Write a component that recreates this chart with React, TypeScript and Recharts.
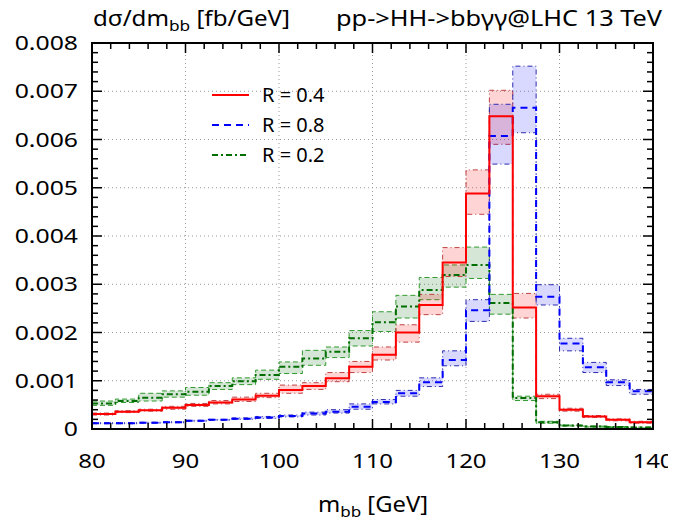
import React from 'react';
import { ComposedChart, Line, Area, XAxis, YAxis, CartesianGrid, Legend } from 'recharts';

// Bin lower edges (GeV), bins are 2.5 GeV wide, last edge 140
const binEdges = [80, 82.5, 85, 87.5, 90, 92.5, 95, 97.5, 100, 102.5, 105, 107.5, 110, 112.5, 115, 117.5, 120, 122.5, 125, 127.5, 130, 132.5, 135, 137.5, 140];

// R = 0.4 (red)
const r04 = [0.00031, 0.00036, 0.00039, 0.00044, 0.0005, 0.00055, 0.00061, 0.00069, 0.00081, 0.00089, 0.00105, 0.00129, 0.00154, 0.002, 0.00257, 0.00345, 0.00488, 0.00648, 0.00252, 0.00068, 0.0004, 0.00026, 0.00019, 0.00014];
const r04Lo = [0.00029, 0.00034, 0.00037, 0.00041, 0.00047, 0.00052, 0.00057, 0.00065, 0.00074, 0.00082, 0.00098, 0.00117, 0.00143, 0.0018, 0.00237, 0.00316, 0.00445, 0.0059, 0.0023, 0.00063, 0.00037, 0.00024, 0.00017, 0.00012];
const r04Hi = [0.00033, 0.00038, 0.00041, 0.00047, 0.00053, 0.00059, 0.00066, 0.00074, 0.00091, 0.00096, 0.00117, 0.0014, 0.0017, 0.00216, 0.00279, 0.00376, 0.00537, 0.00702, 0.00281, 0.00072, 0.00043, 0.00028, 0.00021, 0.00016];

// R = 0.8 (blue)
const r08 = [0.00012, 0.00012, 0.00013, 0.00014, 0.00017, 0.00019, 0.00021, 0.00024, 0.00027, 0.00032, 0.00036, 0.00046, 0.00056, 0.00074, 0.00097, 0.00143, 0.00246, 0.00607, 0.00666, 0.00274, 0.00177, 0.00128, 0.00097, 0.00078];
const r08Lo = [0.00011, 0.00011, 0.00012, 0.00013, 0.00016, 0.00018, 0.0002, 0.00022, 0.00025, 0.00029, 0.00033, 0.00041, 0.00052, 0.00068, 0.00088, 0.00131, 0.00223, 0.00549, 0.00614, 0.00257, 0.00162, 0.00117, 0.0009, 0.00072];
const r08Hi = [0.00013, 0.00013, 0.00014, 0.00015, 0.00018, 0.0002, 0.00023, 0.00026, 0.00029, 0.00035, 0.0004, 0.00052, 0.00061, 0.0008, 0.00106, 0.00162, 0.00268, 0.00673, 0.00752, 0.00299, 0.00188, 0.00138, 0.00102, 0.00082];

// R = 0.2 (green)
const r02 = [0.00053, 0.00058, 0.00065, 0.00072, 0.00077, 0.00089, 0.00099, 0.00112, 0.00129, 0.00146, 0.0016, 0.00188, 0.00221, 0.00254, 0.00288, 0.00319, 0.0034, 0.00261, 0.00064, 0.00014, 0.00007, 0.00005, 0.00004, 0.00003];
const r02Lo = [0.00049, 0.00055, 0.00058, 0.00066, 0.0007, 0.00082, 0.00092, 0.00103, 0.00115, 0.00132, 0.00148, 0.00172, 0.00202, 0.0023, 0.00268, 0.00294, 0.00312, 0.00238, 0.00059, 0.00012, 0.00006, 0.00004, 0.00003, 0.00002];
const r02Hi = [0.00058, 0.00062, 0.00074, 0.00079, 0.00086, 0.00096, 0.00106, 0.00122, 0.00139, 0.00163, 0.0017, 0.00204, 0.00243, 0.00277, 0.00314, 0.0034, 0.00377, 0.00279, 0.00068, 0.00016, 0.00008, 0.00006, 0.00005, 0.00004];

const xDomain = [80, 140];
const yDomain = [0, 0.008];
const xMajorTicks = [80, 90, 100, 110, 120, 130, 140];
const xMinorTicks = [80, 82, 84, 86, 88, 90, 92, 94, 96, 98, 100, 102, 104, 106, 108, 110, 112, 114, 116, 118, 120, 122, 124, 126, 128, 130, 132, 134, 136, 138, 140];
const yMajorTicks = [0, 0.001, 0.002, 0.003, 0.004, 0.005, 0.006, 0.007, 0.008];
const yTickLabels = ['0', '0.001', '0.002', '0.003', '0.004', '0.005', '0.006', '0.007', '0.008'];
const yMinorTicks = [0, 0.0002, 0.0004, 0.0006, 0.0008, 0.001, 0.0012, 0.0014, 0.0016, 0.0018, 0.002, 0.0022, 0.0024, 0.0026, 0.0028, 0.003, 0.0032, 0.0034, 0.0036, 0.0038, 0.004, 0.0042, 0.0044, 0.0046, 0.0048, 0.005, 0.0052, 0.0054, 0.0056, 0.0058, 0.006, 0.0062, 0.0064, 0.0066, 0.0068, 0.007, 0.0072, 0.0074, 0.0076, 0.0078, 0.008];

const legendItems = [
  { label: 'R = 0.4', color: '#ff0000', dash: undefined },
  { label: 'R = 0.8', color: '#0000ff', dash: '7 5' },
  { label: 'R = 0.2', color: '#006e00', dash: '6 3 2 3' },
];

const last = r04.length - 1;
const data = binEdges.map((x, i) => {
  const k = Math.min(i, last);
  return {
    x,
    r04: r04[k],
    r04Band: [r04Lo[k], r04Hi[k]],
    r08: r08[k],
    r08Band: [r08Lo[k], r08Hi[k]],
    r02: r02[k],
    r02Band: [r02Lo[k], r02Hi[k]],
  };
});

// layout constants
const CHART_W = 668;
const CHART_H = 513;
const MARGIN = { top: 35, right: 23, bottom: 0, left: 0 };
const Y_AXIS_W = 84;
const X_AXIS_H = 92;
const PLOT_L = MARGIN.left + Y_AXIS_W;
const PLOT_T = MARGIN.top;
const PLOT_W = CHART_W - MARGIN.left - MARGIN.right - Y_AXIS_W;
const PLOT_H = CHART_H - MARGIN.top - MARGIN.bottom - X_AXIS_H;

// frame tick positions (decoration only)
const tickX = (v: number) => PLOT_L + ((v - xDomain[0]) / (xDomain[1] - xDomain[0])) * PLOT_W;
const tickY = (v: number) => PLOT_T + PLOT_H - ((v - yDomain[0]) / (yDomain[1] - yDomain[0])) * PLOT_H;

const FONT = '"Noto Sans", "Open Sans", sans-serif';
const isMajorX = (v: number) => xMajorTicks.some((t) => Math.abs(t - v) < 1e-9);
const majorYIndex = (v: number) => yMajorTicks.findIndex((t) => Math.abs(t - v) < 1e-9);

const BottomTick = (props: any) => {
  const { x, y, payload } = props;
  if (!isMajorX(payload.value)) return <g />;
  return (
    <text transform={`translate(${x},${y + 39}) scale(1.2,1)`} textAnchor="middle" fontSize={20} fontFamily={FONT} fill="#000" stroke="none">
      {payload.value}
    </text>
  );
};

const LeftTick = (props: any) => {
  const { x, y, payload } = props;
  const idx = majorYIndex(payload.value);
  if (idx < 0) return <g />;
  return (
    <text transform={`translate(${x - 14},${y + 7}) scale(1.24,1)`} textAnchor="end" fontSize={20} fontFamily={FONT} fill="#000" stroke="none">
      {yTickLabels[idx]}
    </text>
  );
};

const renderLegend = () => (
  <svg width={150} height={90} style={{ display: 'block' }}>
    {legendItems.map((it, i) => (
      <g key={it.label}>
        <line x1={0} x2={37} y1={15 + i * 30} y2={15 + i * 30} stroke={it.color} strokeWidth={2} strokeDasharray={it.dash} />
        <text x={50} y={15 + i * 30 + 7} fontSize={20} fontFamily={FONT} fill="#000">
          {it.label}
        </text>
      </g>
    ))}
  </svg>
);

export default function App() {
  return (
    <div style={{ position: 'relative', width: CHART_W, height: CHART_H }}>
      <ComposedChart width={CHART_W} height={CHART_H} data={data} margin={MARGIN}>
        <CartesianGrid
          stroke="#999"
          strokeDasharray="1 3"
          horizontalValues={[0.001, 0.002, 0.003, 0.004, 0.005, 0.006, 0.007]}
          verticalValues={[90, 100, 110, 120, 130]}
        />
        <XAxis
          dataKey="x"
          type="number"
          domain={xDomain}
          allowDataOverflow
          ticks={xMinorTicks}
          interval={0}
          height={X_AXIS_H}
          tickSize={0}
          tickMargin={0}
          tickLine={false}
          axisLine={false}
          tick={<BottomTick />}
        />
        <YAxis
          type="number"
          domain={yDomain}
          allowDataOverflow
          ticks={yMinorTicks}
          interval={0}
          width={Y_AXIS_W}
          tickSize={0}
          tickMargin={0}
          tickLine={false}
          axisLine={false}
          tick={<LeftTick />}
        />
        <Area dataKey="r02Band" type="stepAfter" fill="#006400" fillOpacity={0.16} stroke="#2f9a2f" strokeWidth={1} strokeDasharray="5 3" isAnimationActive={false} legendType="none" dot={false} activeDot={false} />
        <Area dataKey="r04Band" type="stepAfter" fill="#ff0000" fillOpacity={0.17} stroke="#c04040" strokeWidth={1} strokeDasharray="5 3 1 3" isAnimationActive={false} legendType="none" dot={false} activeDot={false} />
        <Area dataKey="r08Band" type="stepAfter" fill="#0000ff" fillOpacity={0.15} stroke="#2a2ab0" strokeWidth={1} strokeDasharray="5 3 1 3" isAnimationActive={false} legendType="none" dot={false} activeDot={false} />
        <Line dataKey="r02" name="R = 0.2" type="stepAfter" stroke="#006e00" strokeWidth={2} strokeDasharray="6 3 2 3" dot={false} activeDot={false} isAnimationActive={false} />
        <Line dataKey="r08" name="R = 0.8" type="stepAfter" stroke="#0000ff" strokeWidth={2} strokeDasharray="7 5" dot={false} activeDot={false} isAnimationActive={false} />
        <Line dataKey="r04" name="R = 0.4" type="stepAfter" stroke="#ff0000" strokeWidth={2} dot={false} activeDot={false} isAnimationActive={false} />
        <Legend
          layout="vertical"
          align="center"
          verticalAlign="middle"
          content={renderLegend}
          wrapperStyle={{ position: 'absolute', left: 204, top: 72, width: 150, height: 90 }}
        />
      </ComposedChart>
      <svg width={CHART_W} height={CHART_H} style={{ position: 'absolute', left: 0, top: 0, pointerEvents: 'none' }}>
        <g stroke="black" strokeWidth={1.5} fill="none">
          {xMinorTicks.map((v) => {
            const len = isMajorX(v) ? 10 : 6;
            const px = tickX(v);
            return (
              <g key={`x${v}`}>
                <line x1={px} x2={px} y1={PLOT_T + PLOT_H} y2={PLOT_T + PLOT_H - len} />
                <line x1={px} x2={px} y1={PLOT_T} y2={PLOT_T + len} />
              </g>
            );
          })}
          {yMinorTicks.map((v) => {
            const len = majorYIndex(v) >= 0 ? 10 : 6;
            const py = tickY(v);
            return (
              <g key={`y${v}`}>
                <line x1={PLOT_L} x2={PLOT_L + len} y1={py} y2={py} />
                <line x1={PLOT_L + PLOT_W} x2={PLOT_L + PLOT_W - len} y1={py} y2={py} />
              </g>
            );
          })}
        </g>
        <rect x={PLOT_L} y={PLOT_T} width={PLOT_W} height={PLOT_H} fill="none" stroke="black" strokeWidth={2} />
        <text x={85} y={18} fontSize={21} fontFamily={FONT} fill="#000" textLength={197} lengthAdjust="spacingAndGlyphs">
          dσ/dm<tspan dy={5} fontSize={15}>bb</tspan>
          <tspan dy={-5}> [fb/GeV]</tspan>
        </text>
        <text x={328} y={18} fontSize={21} fontFamily={FONT} fill="#000" textLength={326} lengthAdjust="spacingAndGlyphs">
          pp-&gt;HH-&gt;bbγγ@LHC 13 TeV
        </text>
        <text x={310} y={504} fontSize={21} fontFamily={FONT} fill="#000" textLength={110} lengthAdjust="spacingAndGlyphs">
          m<tspan dy={5} fontSize={15}>bb</tspan>
          <tspan dy={-5}> [GeV]</tspan>
        </text>
      </svg>
    </div>
  );
}
